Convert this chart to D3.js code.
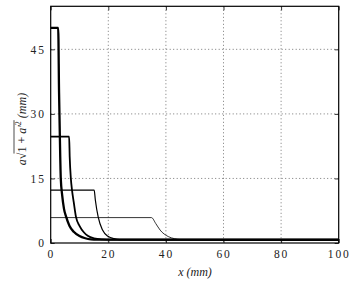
<!DOCTYPE html>
<html><head><meta charset="utf-8">
<script src="https://cdn.jsdelivr.net/npm/d3@7"></script>
<style>body{margin:0;background:#fff} text{font-family:"Liberation Serif","DejaVu Serif",serif;}</style>
</head><body>
<svg id="c" width="356" height="286"></svg>
<script>
const xTicks = [0, 20, 40, 60, 80, 100];
const yTicks = [0, 15, 30, 45];
const series1 = [[0,50],[2.6,50],[2.9,35],[3.2,24],[3.5,15],[4.0,11],[4.6,8],[5.4,6],[6.5,4],[8,2.6],[10,1.6],[12,1.1],[14,0.85],[16,0.78],[100,0.75]];
const series2 = [[0,24.7],[6.4,24.7],[6.6,20],[7.0,15],[7.4,12.3],[8.0,9.5],[8.8,6],[10,4],[11.5,2.5],[13,1.6],[15,1.1],[18,0.85],[21,0.78],[100,0.75]];
const series3 = [[0,12.3],[15.1,12.3],[15.5,10],[16.5,6],[18,3],[20,1.5],[22,1.0],[24,0.8],[100,0.75]];
const series4 = [[0,5.9],[35,5.9],[36.5,4.5],[38,3],[40.8,1.5],[43,1.0],[45,0.8],[100,0.75]];
const seriesList = [
  {data: series4, w: 0.8},
  {data: series3, w: 1.2},
  {data: series2, w: 1.8},
  {data: series1, w: 2.3}
];

const L = 50.7, R = 338.7, T = 6.3, B = 243;
const svg = d3.select("#c");
const x = d3.scaleLinear().domain([0,100]).range([L,R]);
const y = d3.scaleLinear().domain([0,55]).range([B,T]);

// grid
const g = svg.append("g");
g.selectAll(".gx").data(xTicks.filter(d=>d>0&&d<100)).join("line")
  .attr("x1",d=>x(d)).attr("x2",d=>x(d)).attr("y1",T).attr("y2",B)
  .attr("stroke","#555").attr("stroke-width",0.8).attr("stroke-dasharray","1,2.5");
g.selectAll(".gy").data(yTicks.filter(d=>d>0)).join("line")
  .attr("y1",d=>y(d)).attr("y2",d=>y(d)).attr("x1",L).attr("x2",R)
  .attr("stroke","#555").attr("stroke-width",0.8).attr("stroke-dasharray","1,2.5");

// lines
const line = d3.line().x(d=>x(d[0])).y(d=>y(d[1])).curve(d3.curveMonotoneX);
svg.selectAll(".s").data(seriesList).join("path")
  .attr("d",d=>line(d.data)).attr("fill","none").attr("stroke","#000")
  .attr("stroke-width",d=>d.w).attr("stroke-linejoin","round");

// axes with inward ticks
const tl = 4;
const fmt = d3.format("d");
svg.append("g").attr("transform",`translate(0,${B})`)
  .call(d3.axisBottom(x).tickValues(xTicks).tickSize(-tl).tickPadding(7).tickFormat(fmt));
svg.append("g").attr("transform",`translate(0,${T})`)
  .call(d3.axisTop(x).tickValues(xTicks).tickSize(-tl).tickFormat(""));
svg.append("g").attr("transform",`translate(${L},0)`)
  .call(d3.axisLeft(y).tickValues(yTicks).tickSize(-tl).tickPadding(5).tickFormat(fmt));
svg.append("g").attr("transform",`translate(${R},0)`)
  .call(d3.axisRight(y).tickValues(yTicks).tickSize(-tl).tickFormat(""));
svg.selectAll(".domain").remove();
svg.selectAll("g").attr("font-family",null);
svg.selectAll(".tick line").attr("stroke","#000").attr("stroke-width",0.8);
svg.selectAll(".tick text").attr("font-size",11.5)
  .style("letter-spacing","1.8px").attr("fill","#222");

svg.append("rect").attr("x",L).attr("y",T).attr("width",R-L).attr("height",B-T)
  .attr("fill","none").attr("stroke","#000").attr("stroke-width",1.2);

// x label
svg.append("text").attr("x",195).attr("y",276).attr("text-anchor","middle")
  .attr("font-size",12).attr("font-style","italic").attr("fill","#222")
  .text("x  (mm)");

// y label
const yl = svg.append("g").attr("transform","translate(26,129) rotate(-90)");
const yt = yl.append("text").attr("text-anchor","middle").attr("font-size",12).attr("fill","#222");
yt.append("tspan").attr("font-style","italic").text("a");
yt.append("tspan").text("√");
yt.append("tspan").text("1 + ");
yt.append("tspan").attr("font-style","italic").text("a′");
yt.append("tspan").attr("font-size",8).attr("dy",-5).text("2");
yt.append("tspan").attr("dy",5).attr("font-style","italic").text("  (mm)");
// vinculum
const node = yt.node();
const txt = node.textContent;
const p0 = node.getStartPositionOfChar(txt.indexOf("1"));
const p1 = node.getEndPositionOfChar(txt.indexOf("2"));
yl.append("line").attr("x1",p0.x-1).attr("x2",p1.x+1).attr("y1",-12).attr("y2",-12)
  .attr("stroke","#000").attr("stroke-width",0.7);
</script>
</body></html>
